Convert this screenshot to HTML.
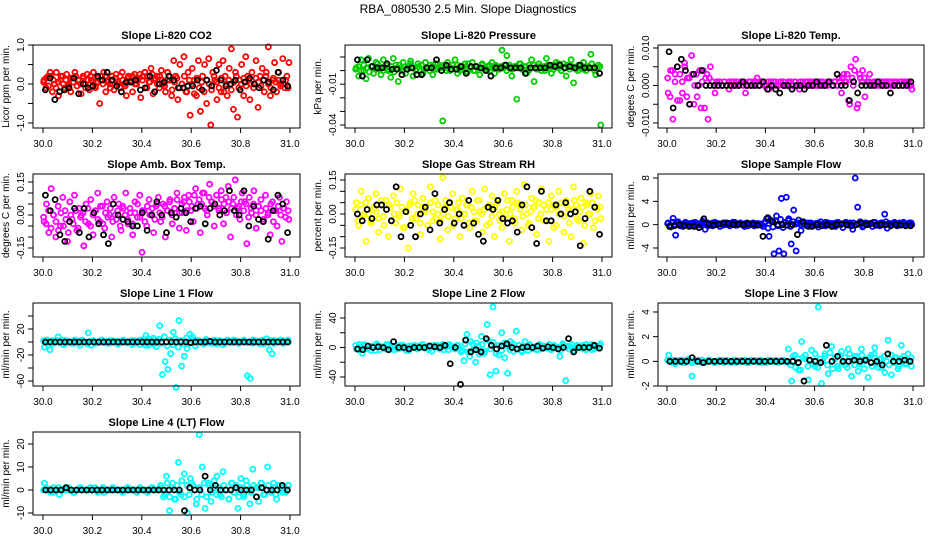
<!DOCTYPE html>
<html><head><meta charset="utf-8"><style>
body{margin:0;background:#fff}
svg{display:block;font-family:"Liberation Sans",sans-serif}
.t{font-size:11px;font-weight:bold;text-anchor:middle}
.l{font-size:10px;text-anchor:middle}
</style></head><body>
<svg id="c" width="936" height="540" xmlns="http://www.w3.org/2000/svg">
<text x="468" y="13" font-size="12" text-anchor="middle">RBA_080530  2.5 Min. Slope Diagnostics</text>
</svg>
<script>
const xTicks=[30.0,30.2,30.4,30.6,30.8,31.0];
const xTickLabels=["30.0","30.2","30.4","30.6","30.8","31.0"];
const co2Color=[0.1,-0.1,0.2,0.3,-0.2,0.0,0.3,-0.3,0.1,0.2,-0.1,0.25,0.0,-0.2,0.15,0.3,-0.05,0.1,-0.25,0.2,0.0,0.25,-0.15,0.1,0.3,-0.1,0.05,-0.5,0.2,0.3,-0.2,0.1,0.0,0.2,-0.15,0.25,0.05,-0.1,0.3,0.0,-0.3,0.2,0.1,-0.2,0.25,0.0,0.15,-0.35,0.2,0.3,-0.1,0.05,0.4,-0.25,0.1,0.2,-0.1,0.35,0.0,-0.2,0.3,0.1,-0.3,0.6,0.2,-0.4,0.5,0.0,0.7,-0.2,0.3,-0.8,0.4,0.1,-0.3,0.6,-0.7,0.2,0.5,-0.5,0.65,-1.05,0.3,0.1,-0.4,0.5,-0.2,0.6,0.2,-0.3,0.4,0.9,-0.65,0.3,-0.85,0.1,0.5,-0.3,0.7,0.2,-0.4,0.3,0.0,0.6,-0.6,0.2,0.4,-0.2,0.3,0.95,-0.3,0.1,0.55,-0.2,0.3,0.0,0.65,-0.1,0.2,0.55];
const co2Band=[0.05,0.15,-0.05,0.2,0.1,-0.1,0.05,0.2,0.0,0.1,-0.05,0.15,0.05,0.2,0.1,0.0,0.15,-0.1,0.1,0.2,0.05,-0.05,0.15,0.1,0.0,0.2,0.05,-0.1,0.1,0.15,0.0,0.2,0.1,-0.05,0.15,0.05,0.2,0.0,0.1,0.25,0.1,0.3,0.2,0.05,0.25,0.15,0.0,0.2,0.1,-0.05,0.1,0.2,-0.15,0.05,0.15,-0.1,0.0,0.2,-0.2,0.1,0.0,-0.25,0.15,-0.1,0.05,-0.2,0.1,0.0,-0.15,0.2,0.05,-0.1,0.15,-0.2,0.0,0.1,-0.15,0.05,0.2,-0.1,0.0,0.15,-0.05,0.1,0.0,-0.1,0.15,0.05,-0.05,0.1,0.2,0.0,-0.1,0.15,0.05,0.1,-0.05,0.0,0.1,-0.1];
const co2Black=[-0.15,0.15,-0.4,-0.2,-0.15,-0.1,0.15,-0.25,0.0,-0.1,-0.05,0.2,0.1,0.3,0.1,-0.05,-0.2,0.05,0.05,0.1,-0.15,-0.1,0.2,-0.2,0.0,0.05,0.2,0.1,-0.1,-0.1,-0.05,-0.05,0.1,-0.15,0.1,-0.05,0.35,0.1,-0.05,0.0,0.1,-0.15,0.05,0.15,0.0,-0.1,0.1,0.05,-0.15,0.3,0.1,-0.05];
const presColor=[0.002,-0.004,0.008,0.0,-0.006,0.009,0.003,-0.002,0.006,0.001,-0.003,0.008,0.002,0.0,-0.005,0.009,0.004,-0.008,0.002,0.006,-0.002,0.003,0.007,-0.004,0.001,0.005,0.0,-0.002,0.006,0.002,0.004,-0.003,0.001,0.005,0.003,-0.037,0.002,0.006,0.0,0.004,0.008,-0.002,0.003,0.001,0.005,-0.001,0.002,0.006,0.0,0.003,-0.003,0.005,0.002,0.0,0.004,0.006,-0.002,0.003,0.001,0.015,0.004,0.011,0.002,-0.004,0.003,-0.021,0.005,0.001,0.003,-0.002,0.004,0.008,-0.008,0.002,0.005,0.0,0.003,0.009,0.001,-0.002,0.004,0.006,0.002,0.0,0.005,-0.004,0.003,0.008,-0.009,0.001,0.004,0.002,0.006,0.0,0.003,0.012,0.002,-0.003,0.004,-0.040];
const presBand=[0.001,0.003,0.0,0.004,0.002,-0.001,0.003,0.001,0.005,0.002,0.0,0.004,0.001,0.003,-0.001,0.002,0.004,0.0,0.003,0.001,0.005,0.002,0.0,0.003,0.004,0.001,0.002,0.0,0.003,0.005,0.001,0.002,0.004,0.0,0.003,0.001,0.002,0.004,0.0,0.003,0.001,0.005,0.002,0.0,0.003,0.002,0.004,0.001,0.003,0.0,0.002,0.004,0.001,0.003,0.002,0.0,0.004,0.001,0.003,0.002,0.005,0.001,0.003,0.0,0.002,0.004,0.001,0.003,0.002,0.0,0.004,0.002,0.001,0.003,0.005,0.0,0.002,0.004,0.001,0.003,0.002,0.0,0.004,0.001,0.003,0.002,0.005,0.0,0.002,0.003];
const presBlack=[0.008,-0.004,0.008,0.003,0.002,0.002,0.005,0.001,0.001,-0.003,0.001,0.002,-0.003,-0.003,0.002,0.002,0.008,0.0,0.004,0.001,0.001,0.003,-0.002,0.003,0.003,0.002,0.0,-0.004,0.002,0.002,0.004,0.002,0.002,0.002,-0.002,0.002,0.002,0.002,0.002,0.004,0.003,0.004,0.002,0.003,0.002,0.004,0.002,0.002,0.002,-0.002];
const tempColor=[-0.002,0.004,-0.009,0.003,0.005,-0.004,0.001,0.006,-0.003,0.002,0.008,-0.005,0.003,0.0,-0.006,0.004,0.002,-0.009,0.005,0.001,-0.002,0.0,0.001,0.0,0.001,0.0,-0.001,0.0,0.001,0.0,0.0,0.001,0.0,-0.002,0.0,0.001,0.0,0.0,0.002,0.0,0.001,0.0,0.0,-0.001,0.0,0.001,0.0,0.0,0.001,0.0,0.0,0.0,0.001,0.0,0.001,0.0,-0.001,0.0,0.0,0.001,0.0,0.0,0.001,0.0,0.0,0.001,0.0,0.0,0.0,0.001,0.0,0.001,0.0,0.002,-0.002,0.003,0.001,-0.004,0.005,0.0,0.007,-0.005,0.002,0.004,-0.003,0.001,0.003,0.0,0.001,0.0,0.001,0.0,0.001,0.001,0.0,0.001,0.0,0.001,0.0,0.001,0.0,0.001,0.001,0.0,-0.001];
const tempBand=[0.002,-0.003,0.004,0.001,-0.004,0.003,-0.002,0.005,0.002,-0.005,0.003,0.0,-0.003,0.004,0.001,-0.006,0.003,0.002,0.001,0.0,0.001,0.001,0.0,0.001,0.0,0.001,0.001,0.0,0.001,0.0,0.001,0.001,0.0,0.001,0.0,0.001,0.001,0.0,0.001,0.001,0.0,0.001,0.001,0.0,0.001,0.0,0.001,0.001,0.0,0.001,0.001,0.0,0.001,0.0,0.001,0.001,0.0,0.001,0.001,0.0,0.001,0.0,0.001,0.001,0.0,0.001,0.001,0.0,0.001,0.0,0.001,0.002,0.001,0.003,-0.005,0.002,0.004,-0.006,0.003,0.001,0.002,0.001,0.001,0.0,0.001,0.001,0.0,0.001,0.0,0.001,0.001,0.0,0.001,0.001,0.0,0.001,0.001,0.0,0.001,0.0];
const tempBlack=[0.009,-0.006,0.005,0.007,0.004,-0.005,0.003,0.0,0.004,0.0,0.0,0.0,0.0,0.0,0.0,0.0,0.0,0.0,0.001,0.0,0.0,0.0,0.0,0.001,-0.001,0.0,-0.001,-0.002,0.0,0.0,-0.001,0.0,0.0,-0.001,0.0,0.0,0.001,0.0,0.0,0.001,0.0,0.003,0.0,0.0,-0.004,0.001,-0.002,0.0,0.0,0.0,0.0,0.001,0.0,0.0,-0.002,0.0,0.0,0.0,0.0,0.001];
const ambColor=[-0.03,0.05,-0.08,0.12,0.0,-0.1,0.04,-0.05,0.08,0.02,-0.12,0.06,-0.02,0.09,-0.07,0.03,0.0,-0.14,0.05,-0.04,0.07,-0.09,0.02,0.1,-0.03,0.04,-0.06,0.06,0.0,-0.1,0.08,-0.02,0.05,-0.07,0.03,0.1,-0.04,0.01,-0.09,0.06,-0.01,0.09,-0.17,0.02,-0.05,0.07,0.0,-0.08,0.04,0.08,-0.03,0.05,-0.1,0.02,0.07,-0.04,0.03,0.1,-0.06,0.01,0.06,-0.07,0.09,0.02,-0.03,0.12,0.05,-0.08,0.1,0.03,0.0,0.14,0.06,-0.05,0.09,0.02,0.11,-0.04,0.08,0.13,-0.1,0.05,0.16,0.03,-0.02,0.1,0.06,-0.13,0.08,0.01,0.11,-0.06,0.04,0.07,-0.03,0.09,0.0,-0.09,0.06,0.02,-0.05,0.08,-0.12,0.03,0.06,-0.02];
const ambBand=[-0.01,-0.04,0.02,-0.06,0.0,-0.03,-0.07,0.01,-0.05,-0.02,-0.08,0.0,-0.04,0.02,-0.06,-0.01,0.01,-0.03,0.03,-0.05,0.0,0.02,-0.02,0.04,-0.04,0.01,-0.01,0.03,-0.03,0.0,0.02,-0.05,0.04,0.0,-0.02,0.03,-0.04,0.01,0.05,-0.01,0.02,-0.03,0.04,0.0,0.03,-0.02,0.05,0.01,-0.01,0.04,0.02,0.06,0.0,0.03,0.07,0.01,0.05,0.08,0.02,0.06,0.04,0.09,0.03,0.07,0.05,0.1,0.02,0.08,0.06,0.04,0.09,0.03,0.07,0.05,0.01,0.06,0.03,0.08,0.0,0.04,0.06,0.02,0.05,-0.01,0.03,0.05,0.0,0.04,0.02,-0.02,0.03,0.01,0.05,-0.03,0.02,0.04,0.0,0.03,-0.01,0.02];
const ambBlack=[0.09,0.02,0.07,-0.09,-0.12,-0.03,0.03,-0.08,0.03,-0.1,0.01,-0.04,-0.09,-0.13,0.05,0.0,-0.02,-0.03,-0.05,-0.05,0.01,-0.07,0.0,0.06,0.0,-0.08,0.01,-0.01,0.03,0.01,-0.03,0.03,0.04,-0.04,0.03,0.05,0.0,0.02,0.11,0.02,0.0,0.11,-0.05,0.04,-0.02,-0.03,-0.11,0.02,0.09,0.05,-0.08];
const rhColor=[0.05,-0.05,0.1,0.0,-0.12,0.07,-0.03,0.02,0.09,-0.08,0.04,-0.01,0.06,-0.1,0.03,0.08,-0.04,0.0,0.11,-0.06,0.02,-0.15,0.05,0.09,-0.02,0.04,-0.09,0.07,0.01,-0.05,0.12,-0.03,0.06,0.0,-0.11,0.16,0.03,-0.07,0.05,0.09,-0.02,0.02,-0.1,0.07,0.0,0.04,-0.06,0.1,-0.03,0.06,0.01,-0.08,0.11,0.03,-0.04,0.08,-0.1,0.05,0.0,-0.06,0.09,0.02,-0.12,0.06,-0.02,0.1,0.04,-0.07,0.13,0.0,-0.04,0.07,0.03,-0.09,0.05,0.11,-0.03,0.02,-0.12,0.08,0.04,-0.05,0.1,0.0,-0.08,0.06,0.02,-0.1,0.12,0.04,-0.03,0.07,-0.13,0.05,0.0,0.09,-0.06,0.03,0.08,-0.02];
const rhBand=[0.02,-0.03,0.04,-0.01,0.05,0.0,-0.04,0.03,0.01,-0.02,0.06,-0.05,0.02,0.04,-0.03,0.0,0.05,-0.01,0.03,-0.06,0.01,0.04,-0.02,0.06,0.0,-0.04,0.03,0.02,-0.05,0.05,0.01,-0.02,0.04,-0.03,0.0,0.06,-0.01,0.03,-0.05,0.02,0.05,-0.02,0.0,0.04,-0.04,0.03,0.01,-0.03,0.06,0.0,0.02,-0.05,0.04,-0.01,0.03,0.05,-0.03,0.01,-0.02,0.06,0.0,0.03,-0.04,0.05,0.02,-0.01,0.04,-0.05,0.01,0.03,0.06,-0.02,0.0,0.04,-0.03,0.05,0.02,-0.06,0.03,0.0,0.05,-0.01,0.04,-0.04,0.02,0.06,-0.02,0.01,0.03,-0.05,0.04,0.0,0.05,-0.03,0.02,0.03];
const rhBlack=[0.0,-0.03,0.02,-0.02,0.04,0.04,0.02,-0.03,0.12,-0.1,0.01,-0.05,-0.1,0.0,0.03,-0.07,0.09,-0.04,0.02,0.05,-0.04,0.0,-0.05,0.06,-0.04,-0.09,-0.12,0.03,0.02,0.06,-0.02,-0.04,-0.03,-0.08,0.04,0.12,-0.06,-0.13,0.1,-0.03,-0.03,0.04,0.0,0.05,0.0,0.01,-0.14,-0.02,0.1,0.03,-0.09];
const flowColor=[0.3,-0.4,1.1,-1.8,0.5,0.0,-0.3,0.4,0.2,-0.2,0.3,0.0,-0.1,0.2,0.6,-0.8,0.3,0.0,-0.2,0.4,0.1,-0.3,0.2,0.0,0.3,-0.2,0.1,0.4,-0.1,0.2,0.0,-0.3,0.3,0.1,0.0,-0.2,0.2,0.1,0.0,0.3,1.0,-2.0,0.5,-5.0,1.5,-4.5,4.5,-5.0,4.7,1.0,-3.3,2.5,-4.5,0.8,-1.0,0.5,0.0,-0.3,0.3,0.0,0.2,-0.4,0.5,0.1,-0.2,0.3,0.0,0.2,-0.3,0.4,0.1,-0.5,0.2,0.0,0.3,-0.8,8.0,3.0,0.5,-0.4,0.3,0.0,0.2,-0.3,0.4,0.1,-0.2,0.3,1.8,-0.6,0.2,0.0,0.4,-0.2,0.3,0.0,0.2,-0.1,0.3,0.0];
const flowBand=[0.2,-0.1,0.4,0.0,0.3,-0.2,0.1,0.3,0.0,0.2,-0.1,0.4,0.1,0.0,0.3,0.2,-0.2,0.1,0.3,0.0,0.2,0.1,-0.1,0.3,0.0,0.2,0.4,-0.1,0.1,0.3,0.0,0.2,-0.2,0.1,0.3,0.0,0.2,0.1,-0.3,0.5,-0.6,0.8,-0.4,0.6,-0.2,0.9,-0.5,0.4,0.7,-0.3,0.5,0.1,0.3,0.0,0.2,-0.1,0.3,0.1,0.0,0.2,0.3,-0.1,0.1,0.4,0.0,0.2,-0.2,0.3,0.1,0.0,0.2,0.4,-0.1,0.1,0.3,0.0,0.2,0.1,-0.2,0.3,0.0,0.2,0.4,-0.1,0.1,0.3,0.0,0.5,0.2,-0.1,0.3,0.1,0.0,0.2,0.4,-0.1,0.1,0.3];
const flowBlack=[-0.3,-0.2,0.0,-0.2,-0.3,-0.3,-0.5,1.0,0.1,-0.1,0.1,0.3,0.2,0.0,0.1,0.0,0.2,0.1,-0.1,-2.0,1.2,0.5,0.0,0.0,-0.1,0.0,-1.7,0.5,-0.2,-0.3,0.0,-0.2,0.0,-0.3,0.0,0.1,0.0,-0.2,0.0,0.3,0.0,0.2,-0.1,0.0,0.0,-0.2,0.0,-0.1,-0.2,-0.2];
const l1Color=[-8,3,-12,2,-1,8,0,-4,2,0,-2,3,0,-5,1,0,14,-5,2,0,-1,3,0,-2,2,0,1,-3,0,2,-1,0,-4,2,0,3,-2,10,-5,4,-3,2,25,-50,-30,-42,-18,15,-70,33,-37,-22,-10,12,8,-6,2,0,-3,4,0,-2,3,0,1,-4,0,2,-1,3,0,-2,1,0,-52,-56,3,-1,0,2,-3,5,-12,-18,2,0,3,-2,1,0];
const l1Band=[2,-2,1,-3,0,2,-1,3,-2,1,0,-2,2,-1,3,0,-3,1,2,-2,0,3,-1,1,-2,2,0,-3,1,3,-1,0,2,-2,1,-4,3,-5,5,-3,6,-7,4,-2,8,-6,3,-4,5,-8,2,-3,6,-2,4,-1,2,0,-2,3,-1,1,0,-3,2,1,-2,3,0,-1,2,-2,1,3,-1,0,-2,2,1,-3,3,0,-1,2,-2,1,0,2,-1,3];
const l1Black=[0,0,0,0,0,0,0,0,0,0,0,0,0,0,0,0,0,0,0,0,0,0,0,0,0,0,0,0,0,0,-1,0,0,0,1,0,0,0,0,0,0,0,0,0,0,0,0,0,0,0,0];
const l2Color=[-2,4,-8,3,0,-4,2,5,-3,1,-2,4,0,-3,2,-1,3,0,-4,2,1,-2,3,0,-1,2,-5,3,0,2,-3,1,4,0,-2,3,-6,-18,18,-12,5,-20,2,15,-8,31,-37,55,-32,-10,20,-14,-35,8,-5,22,3,-6,8,-4,2,0,-3,4,-1,2,0,-3,3,-1,-12,5,-45,2,0,-4,3,1,-2,4,0,-3,2,1,5];
const l2Band=[3,-3,1,4,-2,0,2,-4,3,1,-1,4,-3,2,0,-2,3,1,-4,2,0,3,-2,1,4,-1,-3,2,0,3,-2,4,1,-3,2,0,3,-1,-4,5,-6,8,-3,6,-9,4,-5,10,-2,7,-8,3,-4,6,2,-3,5,-1,3,-4,2,0,4,-2,1,-3,3,0,-1,4,-2,2,0,-4,3,1,-2,4,-1,2,0,3,-3,1,4,-2,0,2];
const l2Black=[-2,-3,2,0,1,0,-3,8,0,0,-2,0,0,0,2,1,0,3,-22,0,-50,10,-6,-3,-6,12,3,-2,2,5,0,-2,0,1,0,2,-1,1,0,-2,0,12,-6,0,0,0,3,-1];
const l3Color=[0.5,0.1,-0.2,0.0,0.1,-0.1,0.2,-1.2,0.0,0.1,-0.1,0.0,0.1,0.0,-0.1,0.0,0.1,0.0,0.0,-0.1,0.1,0.0,0.0,0.1,-0.1,0.0,0.1,0.0,-0.1,0.0,0.1,0.0,0.0,-0.1,0.1,0.0,1.0,-1.6,0.5,-0.7,1.6,0.2,-1.5,0.9,-0.4,4.4,-1.8,0.6,-1.0,1.2,0.3,-0.6,0.8,-0.3,1.0,-1.2,0.4,-0.8,1.0,0.0,-1.3,0.5,1.1,-0.5,0.2,-0.9,1.7,-1.1,0.3,-0.6,1.3,-0.2,0.6,-0.4];
const l3Band=[0.1,0.0,-0.1,0.1,0.0,0.1,-0.1,0.0,0.1,0.0,-0.1,0.1,0.0,0.0,0.1,-0.1,0.0,0.1,0.0,-0.1,0.0,0.1,0.0,-0.1,0.1,0.0,0.0,0.1,-0.1,0.0,0.1,0.0,-0.1,0.0,0.1,0.0,0.0,-0.1,0.1,0.0,-0.1,0.0,0.1,0.0,0.1,-0.1,0.0,0.1,0.0,-0.1,-0.3,0.4,-0.5,0.2,-0.7,0.3,0.5,-0.4,0.1,-0.2,0.6,-0.5,0.2,0.0,0.4,-0.3,0.7,-0.6,0.2,-0.4,0.5,-0.1,0.3,-0.5,0.6,0.0,-0.3,0.4,-0.2,0.5,-0.6,0.1,0.3,-0.4,0.6,-0.2,0.2,-0.5,0.4,0.0,-0.3,0.5,-0.1,0.3,-0.4,0.2,0.4,-0.2,0.1,0.3];
const l3Black=[0.0,0.0,0.0,0.0,0.3,0.0,-0.1,0.0,0.0,0.0,0.0,0.0,0.0,0.0,0.0,0.0,0.0,0.0,0.0,0.0,0.0,0.0,0.0,-0.1,-1.6,0.1,0.0,-0.1,1.3,0.0,0.4,0.0,0.0,0.1,0.0,0.1,-0.1,0.0,-0.3,0.6,0.0,0.0,0.1,0.0];
const l4Color=[3,0,-1,1,0,-2,0,1,0,0,-1,0,1,0,0,0,0,1,0,0,-1,0,0,1,0,0,0,0,1,0,0,-1,0,0,0,0,1,0,0,2,-3,6,-9,3,-4,12,-2,7,-10,5,2,-6,24,10,-8,3,-5,1,6,-2,8,0,-4,3,-1,-8,5,-3,2,-6,9,1,-5,3,-2,10,0,3,-4,2,-1,0,2];
const l4Band=[0,1,0,0,-1,0,1,0,0,0,1,0,-1,0,0,1,0,0,0,1,0,0,-1,0,1,0,0,0,1,0,0,0,-1,0,1,0,0,0,0,1,0,0,-1,0,1,0,0,1,0,-2,3,-3,1,-4,2,-1,4,-3,2,-2,3,0,-4,1,-2,3,-3,2,-1,4,-2,1,-3,2,0,-4,3,-1,2,-3,1,-2,4,0,-1,2,-3,1,3,-2,0,2,-1,1,-2,2,0,1,-1,2];
const l4Black=[0,0,0,0,1,0,0,0,0,0,0,0,0,0,0,0,0,0,0,0,0,0,0,0,0,0,0,-9,1,0,0,6,0,2,0,0,0,1,0,0,0,-3,1,0,0,0,2,0];

const NS="http://www.w3.org/2000/svg";
const svg=document.getElementById('c');
function mk(tag,attrs,parent){const e=document.createElementNS(NS,tag);for(const k in attrs)e.setAttribute(k,attrs[k]);(parent||svg).appendChild(e);return e;}
const cols=[[33,300,43,290],[345,612,355,602],[658,924,667,913]];
const rows=[[45,128],[174,257],[303,386],[432,515]];
const panels=[
 {title:"Slope Li-820 CO2",yl:"Licor ppm per min.",col:0,row:0,c:"#ff0000",d:co2Color,e:co2Band,b:co2Black,v1:1,p1:45,v2:-1,p2:123,ticks:[-1,-0.5,0,0.5,1],labels:["-1.0","","0.0","","1.0"]},
 {title:"Slope Li-820 Pressure",yl:"kPa per min.",col:1,row:0,c:"#00cc00",d:presColor,e:presBand,b:presBlack,v1:0.01,p1:57,v2:-0.04,p2:125,ticks:[0.01,0,-0.01,-0.02,-0.03,-0.04],labels:["","","-0.01","","","-0.04"]},
 {title:"Slope Li-820 Temp.",yl:"degees C per min.",col:2,row:0,c:"#ff00ff",d:tempColor,e:tempBand,b:tempBlack,v1:0.01,p1:48,v2:-0.01,p2:123,ticks:[-0.01,-0.005,0,0.005,0.01],labels:["-0.010","","0.000","","0.010"]},
 {title:"Slope Amb. Box Temp.",yl:"degrees C per min.",col:0,row:1,c:"#ff00ff",d:ambColor,e:ambBand,b:ambBlack,v1:0.15,p1:182,v2:-0.15,p2:248,ticks:[-0.15,-0.1,-0.05,0,0.05,0.1,0.15],labels:["-0.15","","","0.00","","","0.15"]},
 {title:"Slope Gas Stream RH",yl:"percent per min.",col:1,row:1,c:"#ffff00",d:rhColor,e:rhBand,b:rhBlack,v1:0.15,p1:180,v2:-0.15,p2:248,ticks:[-0.15,-0.1,-0.05,0,0.05,0.1,0.15],labels:["-0.15","","","0.00","","","0.15"]},
 {title:"Slope Sample Flow",yl:"ml/min per min.",col:2,row:1,c:"#0000ff",d:flowColor,e:flowBand,b:flowBlack,v1:8,p1:178,v2:-4,p2:248,ticks:[-4,0,4,8],labels:["-4","0","4","8"]},
 {title:"Slope Line 1 Flow",yl:"ml/min per min.",col:0,row:2,c:"#00ffff",d:l1Color,e:l1Band,b:l1Black,v1:20,p1:329,v2:-20,p2:355,ticks:[-60,-40,-20,0,20,40],labels:["-60","","-20","","20",""]},
 {title:"Slope Line 2 Flow",yl:"ml/min per min.",col:1,row:2,c:"#00ffff",d:l2Color,e:l2Band,b:l2Black,v1:40,p1:318,v2:-40,p2:377,ticks:[-40,-20,0,20,40],labels:["-40","","0","","40"]},
 {title:"Slope Line 3 Flow",yl:"ml/min per min.",col:2,row:2,c:"#00ffff",d:l3Color,e:l3Band,b:l3Black,v1:4,p1:312,v2:-2,p2:386,ticks:[-2,0,2,4],labels:["-2","0","2","4"]},
 {title:"Slope Line 4 (LT) Flow",yl:"ml/min per min.",col:0,row:3,c:"#00ffff",d:l4Color,e:l4Band,b:l4Black,v1:20,p1:444,v2:-10,p2:513,ticks:[-10,0,10,20],labels:["-10","0","10","20"]}
];
panels.forEach((p,pi)=>{
 const [L,R,X0,X1]=cols[p.col];const [T,B]=rows[p.row];
 const sx=v=>X0+(v-30)*(X1-X0);
 const sy=v=>p.p1+(v-p.v1)*(p.p2-p.p1)/(p.v2-p.v1);
 const g=mk('g',{});
 
 
 const t=mk('text',{x:(L+R)/2,y:T-6,class:'t'},g);t.textContent=p.title;
 
 
 const yl=mk('text',{x:0,y:0,class:'l',transform:`translate(${L-24},${(T+B)/2}) rotate(-90)`},g);yl.textContent=p.yl;
 
 
 const series=[[p.e,p.c,0.25],[p.d,p.c,0.5],[p.b,'#000',0.5]];
 series.forEach(([arr,col,off])=>{
  const n=arr.length;
  arr.forEach((v,i)=>{
   const c=mk('circle',{cx:sx(30+(i+off)/n),cy:sy(v),r:2.5,fill:'none',stroke:col,'stroke-width':1.8},g);
   
   
  });
 });
 const box=mk('rect',{x:L,y:T,width:R-L,height:B-T,fill:'none',stroke:'#000','stroke-width':1},g);
 
 
 xTicks.forEach((v,i)=>{
  mk('line',{x1:sx(v),x2:sx(v),y1:B,y2:B+5,stroke:'#000'},g);
  const tl=mk('text',{x:sx(v),y:B+19,class:'l'},g);tl.textContent=xTickLabels[i];
  
  
 });
 p.ticks.forEach((v,i)=>{
  mk('line',{x1:L-5,x2:L,y1:sy(v),y2:sy(v),stroke:'#000'},g);
  if(p.labels[i]){
   const tl=mk('text',{x:0,y:0,class:'l',transform:`translate(${L-9},${sy(v)}) rotate(-90)`},g);tl.textContent=p.labels[i];
   
   
  }
 });
});
</script>
</body></html>
